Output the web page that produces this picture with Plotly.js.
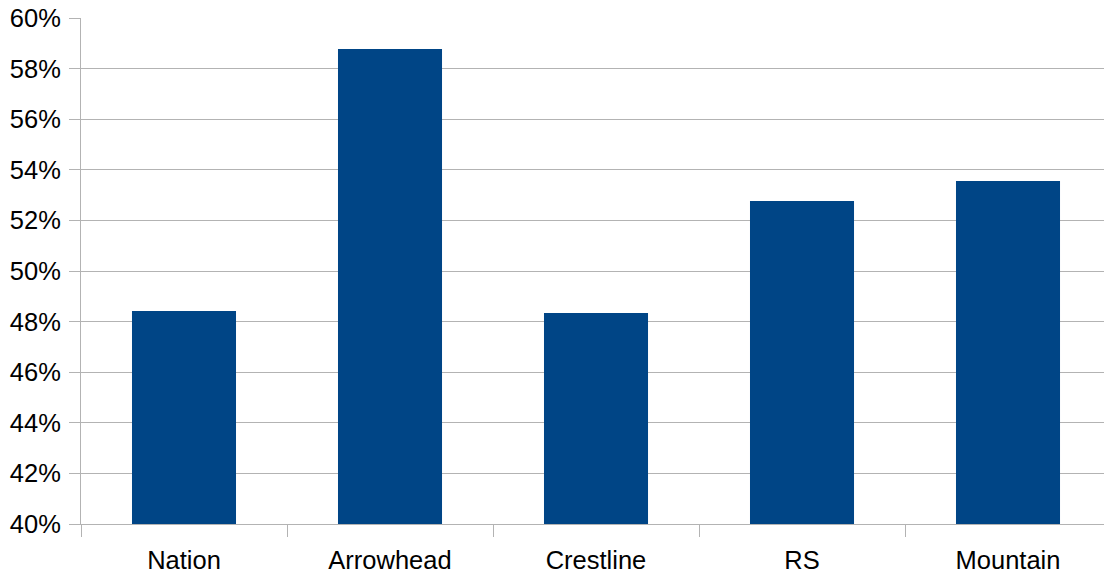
<!DOCTYPE html>
<html><head><meta charset="utf-8">
<script src="https://cdn.plot.ly/plotly-3.0.1.min.js"></script>
<style>html,body{margin:0;background:#fff;overflow:hidden}#c{width:1112px;height:573px}</style>
</head><body><div id="c"></div>
<script>
const categories = ["Nation", "Arrowhead", "Crestline", "RS", "Mountain"];
const values = [0.4842, 0.5877, 0.4834, 0.5277, 0.5356];
const yTicks = [0.40,0.42,0.44,0.46,0.48,0.50,0.52,0.54,0.56,0.58,0.60];

Plotly.newPlot('c', [{
  type: 'bar', x: categories, y: values,
  marker: {color: '#004586'}, width: 0.505, hoverinfo: 'none'
}], {
  width: 1112, height: 573,
  margin: {l: 81, r: 1, t: 18, b: 49},
  paper_bgcolor: '#fff', plot_bgcolor: '#fff',
  font: {family: 'Liberation Sans, Arial, sans-serif', size: 25.5, color: '#000'},
  showlegend: false,
  xaxis: {
    showline: true, linecolor: '#b3b3b3', linewidth: 1,
    ticks: 'outside', tickson: 'boundaries', ticklen: 12, tickcolor: '#b3b3b3',
    ticklabelstandoff: 13,
    showgrid: false, zeroline: false, fixedrange: true
  },
  yaxis: {
    range: [0.40, 0.60], tickvals: yTicks, tickformat: '.0%',
    showgrid: true, gridcolor: '#b3b3b3', gridwidth: 1,
    showline: true, linecolor: '#b3b3b3', linewidth: 1,
    ticks: 'outside', ticklen: 11, tickcolor: '#b3b3b3',
    ticklabelstandoff: 3,
    zeroline: false, fixedrange: true
  }
}, {staticPlot: true});
</script></body></html>
